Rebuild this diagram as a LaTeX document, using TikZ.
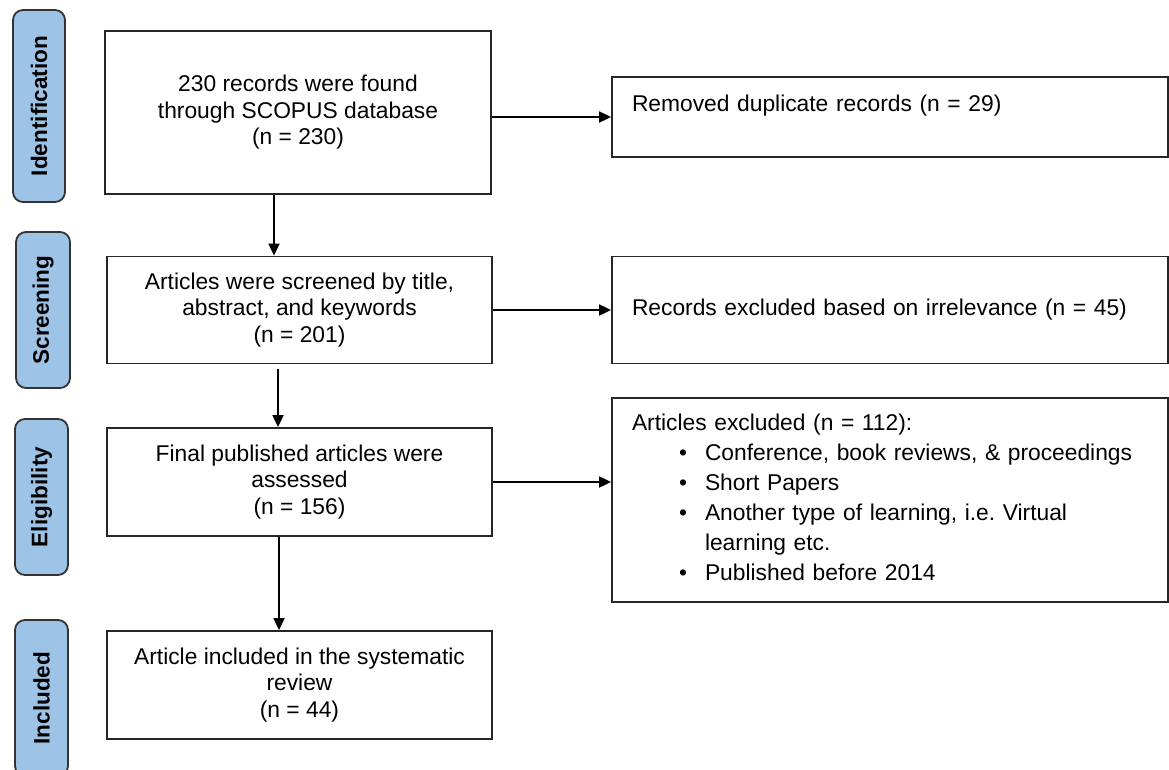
\documentclass[tikz,border=0pt]{standalone}
\usepackage{fontspec}
\setmainfont{Liberation Sans}
\usetikzlibrary{arrows.meta}
\definecolor{stageblue}{RGB}{157,195,230}
\newcommand{\itm}{\hspace*{47pt}\makebox[26pt][l]{\textbullet}}

\begin{document}
\begin{tikzpicture}[x=1pt,y=-1pt]
  \tikzstyle{stage}=[draw=black!80, line width=1.8pt, fill=stageblue, rounded corners=10pt, rotate=90, inner sep=0pt, font=\fontsize{22.5}{26}\selectfont\bfseries]
  \tikzstyle{box}=[draw=black!85, line width=1.8pt, inner sep=0pt, align=center, font=\fontsize{22.8}{26.5}\selectfont]
  \tikzstyle{side}=[box, minimum width=556, inner xsep=20pt, align=left, text width=516pt]
  \tikzstyle{arr}=[line width=1.8pt, -{Triangle[length=12pt,width=11pt]}]
  \useasboundingbox (0,0) rectangle (1169,769);
  \clip (0,0) rectangle (1169,769);
  \foreach \nm / \txt / \xx / \yy / \ww / \hh in {sid/Identification/39/106/52/192, sscr/Screening/43/310/54/156, selg/Eligibility/41.5/497/53/156, sinc/Included/41.5/698/53/156}
     \node[stage, minimum width=\hh, minimum height=\ww] (\nm) at (\xx,\yy) {\txt};
  \node[box, minimum width=386, minimum height=163] (rec) at (298,112.5) {230 records were found\\through SCOPUS database\\(n = 230)};
  \node[box, minimum width=385, minimum height=107] (scr) at (299.5,310) {Articles were screened by title,\\abstract, and keywords\\(n = 201)};
  \node[box, minimum width=385, minimum height=108] (elg) at (299.5,482) {Final published articles were\\assessed\\(n = 156)};
  \node[box, minimum width=385, minimum height=108] (inc) at (299.5,685) {Article included in the systematic\\review\\(n = 44)};
  \node[side, text height=34.3pt, text depth=45.7pt] (dup) at (890,117) {Removed duplicate records (n = 29)};
  \node[side, minimum height=107] (irr) at (890,310) {Records excluded based on irrelevance (n = 45)};
  \node[side, text height=32.3pt, text depth=171.7pt, font=\fontsize{22.8}{30}\selectfont] (exc) at (890,500) {Articles excluded (n = 112):\\\itm Conference, book reviews, \& proceedings\\\itm Short Papers\\\itm Another type of learning, i.e.\ Virtual\\\hspace*{73pt}learning etc.\\\itm Published before 2014};
  \coordinate (c1) at (274,0);
  \coordinate (c2) at (278,0);
  \coordinate (c3) at (279,0);
  \draw[arr] (rec.south -| c1) -- (scr.north -| c1);
  \draw[arr, shorten <=5pt] (scr.south -| c2) -- (elg.north -| c2);
  \draw[arr] (elg.south -| c3) -- (inc.north -| c3);
  \draw[arr] (rec.east |- dup.west) -- (dup.west);
  \draw[arr] (scr.east |- irr.west) -- (irr.west);
  \draw[arr] (elg.east) -- (exc.west |- elg.east);
\end{tikzpicture}
\end{document}
